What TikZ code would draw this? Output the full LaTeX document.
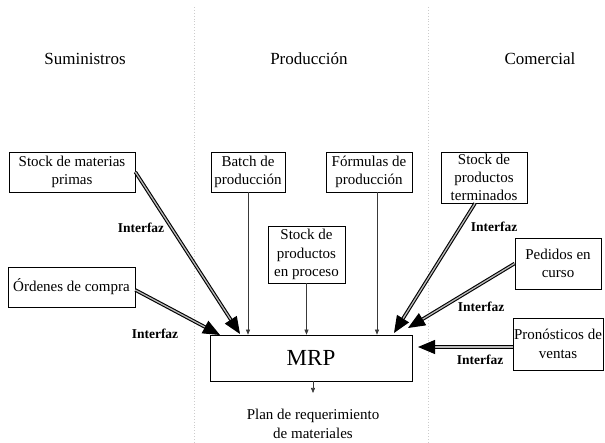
\documentclass[tikz,border=0pt]{standalone}
\usepackage{fontspec}
\setmainfont{Liberation Serif}
\usetikzlibrary{arrows.meta,calc}

\tikzset{
  box/.style={draw, line width=0.7pt, align=center, inner sep=1pt,
    font=\fontsize{15}{18.3}\selectfont},
  title/.style={font=\fontsize{17}{20}\selectfont},
  iface/.style={font=\bfseries\fontsize{13.5}{15}\selectfont},
  divider/.style={gray!40, dotted, line width=0.9pt},
  bigarrow/.style={line width=1.1pt, double=gray!55, double distance=1.3pt,
    -{Triangle[length=17pt,width=14pt]}},
  thinarrow/.style={gray!45!black, line width=0.6pt,
    -{Triangle[length=5pt,width=4pt]}}
}

\begin{document}
\begin{tikzpicture}[x=1pt,y=-1pt]
  \useasboundingbox (0,0) rectangle (605,443);

  % column separators
  \draw[divider] (194,7) -- (194,443);
  \draw[divider] (428,7) -- (428,443);

  % column headings
  \node[title] (hsum) at (85,59) {Suministros};
  \node[title] (hprod) at (309,59) {Producción};
  \node[title] (hcom) at (540,59) {Comercial};

  % input boxes
  \node[box, minimum width=126pt, minimum height=40pt] (smp) at (72,172) {Stock de materias\\primas};
  \node[box, minimum width=127pt, minimum height=40pt] (oc) at (71.5,287) {Órdenes de compra};
  \node[box, minimum width=74pt, minimum height=40pt] (bp) at (248,172) {Batch de\\producción};
  \node[box, minimum width=86pt, minimum height=40pt] (fp) at (369,172) {Fórmulas de\\producción};
  \node[box, minimum width=77pt, minimum height=57pt] (spp) at (306.5,254.5) {Stock de\\productos\\en proceso};
  \node[box, minimum width=86pt, minimum height=51pt] (spt) at (484,177.5) {Stock de\\productos\\terminados};
  \node[box, minimum width=86pt, minimum height=51pt] (ped) at (558,263.5) {Pedidos en\\curso};
  \node[box, minimum width=86pt, minimum height=52pt] (pron) at (558,344) {Pronósticos de\\ventas};

  % central box
  \node[box, minimum width=202pt, minimum height=46pt,
        font=\fontsize{23}{26}\selectfont] (mrp) at (311,358) {MRP};

  % arrow tip positions on the MRP box
  \coordinate (tsmp) at (240,334);
  \coordinate (toc) at (220,335);
  \coordinate (tspt) at (394,333);
  \coordinate (tped) at (408,328);
  \coordinate (tpron) at (418,347);
  \coordinate (tout) at (313,393);

  % interface connectors
  \draw[bigarrow] (smp.east) -- (tsmp);
  \draw[bigarrow] ([yshift=-3pt]oc.east) -- (toc);
  \draw[bigarrow] ([xshift=-9pt]spt.south) -- (tspt);
  \draw[bigarrow] (ped.west) -- (tped);
  \draw[bigarrow] ([yshift=-3pt]pron.west) -- (tpron);

  % production inputs
  \draw[thinarrow] (bp.south) -- (bp.south |- mrp.north);
  \draw[thinarrow] (spp.south) -- (spp.south |- mrp.north);
  \draw[thinarrow] ([xshift=8pt]fp.south) -- ([xshift=8pt]fp.south |- mrp.north);

  % output
  \draw[thinarrow] (mrp.south -| tout) -- (tout);
  \node[box, draw=none, align=center] (plan) at (313,424) {Plan de requerimiento\\de materiales};

  % interface labels
  \node[iface] (i1) at (141,228) {Interfaz};
  \node[iface] (i2) at (155,334) {Interfaz};
  \node[iface] (i3) at (494,227) {Interfaz};
  \node[iface] (i4) at (481,307) {Interfaz};
  \node[iface] (i5) at (480,360) {Interfaz};
\end{tikzpicture}
\end{document}
